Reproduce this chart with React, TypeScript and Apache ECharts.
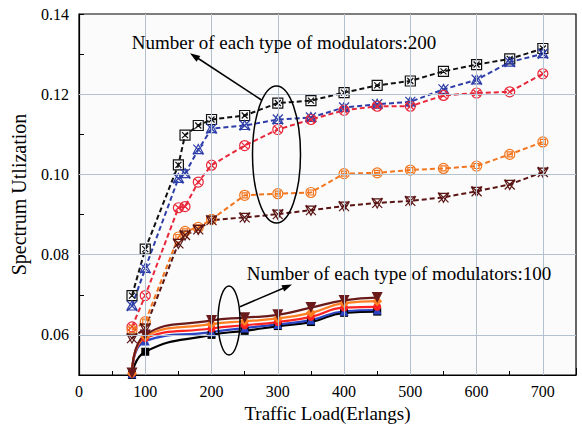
import React, { useEffect, useRef } from "react";
import * as echarts from "echarts";

const loads200 = [80, 100, 150, 160, 180, 200, 250, 300, 350, 400, 450, 500, 550, 600, 650, 700];
const black200 = [0.0698, 0.0814, 0.1024, 0.1098, 0.1122, 0.1137, 0.1147, 0.1178, 0.1184, 0.1204, 0.1222, 0.1233, 0.1257, 0.1274, 0.1288, 0.1314];
const blue200 = [0.0672, 0.0766, 0.099, 0.1002, 0.1062, 0.1114, 0.1122, 0.1137, 0.1142, 0.1167, 0.1175, 0.1181, 0.1212, 0.1236, 0.128, 0.1301];
const red200 = [0.062, 0.0698, 0.0917, 0.092, 0.0981, 0.1023, 0.1072, 0.1112, 0.1137, 0.116, 0.117, 0.117, 0.1197, 0.1203, 0.1206, 0.1251];
const orange200 = [0.0612, 0.0633, 0.0844, 0.0858, 0.0868, 0.0888, 0.0948, 0.0952, 0.0955, 0.1002, 0.1004, 0.1011, 0.1015, 0.1021, 0.105, 0.1081];
const maroon200 = [0.0592, 0.0617, 0.0828, 0.0849, 0.0863, 0.0886, 0.0893, 0.0901, 0.0911, 0.0921, 0.0929, 0.0934, 0.0943, 0.0958, 0.0975, 0.1006];

const loads100 = [80, 100, 200, 250, 300, 350, 400, 450];
const black100 = [0.05, 0.0558, 0.06, 0.061, 0.0622, 0.0632, 0.0655, 0.0658];
const blue100 = [0.0503, 0.0585, 0.0607, 0.0617, 0.0626, 0.0637, 0.0659, 0.0662];
const red100 = [0.0504, 0.0592, 0.0616, 0.0624, 0.0632, 0.0645, 0.0668, 0.067];
const orange100 = [0.0504, 0.0596, 0.0627, 0.0634, 0.0641, 0.0655, 0.0679, 0.0684];
const maroon100 = [0.0505, 0.06, 0.0636, 0.0643, 0.065, 0.0668, 0.0686, 0.0693];

const xGridValues = [100, 200, 300, 400, 500, 600, 700];
const yGridValues = [0.06, 0.08, 0.1, 0.12];

const annotation200 = "Number of each type of modulators:200";
const annotation100 = "Number of each type of modulators:100";
const xName = "Traffic Load(Erlangs)";
const yName = "Spectrum Utlization";

const FONT = '"Liberation Serif", "Times New Roman", serif';

const sqX = "path://M0,0L10,0L10,10L0,10Z M2,2L8,8 M8,2L2,8";
const triX = "path://M0,0L10,10 M10,0L0,10 M5,0L10,9L0,9Z";
const circX = "path://M0,5A5,5,0,1,1,10,5A5,5,0,1,1,0,5Z M1.5,1.5L8.5,8.5 M8.5,1.5L1.5,8.5";
const circSq = "path://M0,5A5,5,0,1,1,10,5A5,5,0,1,1,0,5Z M2.5,2.5L7.5,2.5L7.5,7.5L2.5,7.5Z";
const triDX = "path://M0,0L10,10 M10,0L0,10 M0,1L10,1L5,10Z";

function zip(xs: number[], ys: number[]) {
  return xs.map((x, i) => [x, ys[i]]);
}

function dashed(name: string, ys: number[], color: string, symbol: string) {
  return {
    name,
    type: "line",
    data: zip(loads200, ys),
    symbol,
    symbolSize: 10,
    lineStyle: { color, width: 2, type: [5, 3] },
    itemStyle: { color: "rgba(0,0,0,0)", borderColor: color, borderWidth: 1.2 },
    z: 3,
  };
}

function solid(name: string, ys: number[], color: string, symbol: string, size: number, rotate = 0) {
  return {
    name,
    type: "line",
    data: zip(loads100, ys),
    symbol,
    symbolSize: size,
    symbolRotate: rotate,
    smooth: 0.5,
    lineStyle: { color, width: 2.2 },
    itemStyle: { color, borderColor: color, borderWidth: 0 },
    z: 3,
  };
}

export default function App() {
  const ref = useRef<HTMLDivElement>(null);
  useEffect(() => {
    if (!ref.current) return;
    const chart = echarts.init(ref.current, null, { renderer: "svg" });
    const gridColor = "#b4c2d0";
    chart.setOption({
      animation: false,
      backgroundColor: "#ffffff",
      grid: {
        left: 79,
        right: 6,
        top: 14,
        bottom: 55,
        show: true,
        borderColor: "#000",
        borderWidth: 1.2,
        backgroundColor: "#fbfbfb",
      },
      xAxis: [
        {
          type: "value",
          min: 0,
          max: 750,
          interval: 50,
          name: xName,
          nameLocation: "middle",
          nameGap: 25,
          nameTextStyle: { fontFamily: FONT, fontSize: 19, color: "#000" },
          axisLine: { show: true, lineStyle: { color: "#000", width: 1.2 } },
          axisTick: { show: true, inside: true, length: 4, lineStyle: { color: "#000" } },
          axisLabel: {
            fontFamily: FONT,
            fontSize: 16,
            color: "#000",
            margin: 8,
            formatter: (v: number) => (Math.round(v) % 100 === 0 && v <= 700 ? String(Math.round(v)) : ""),
          },
          splitLine: { show: false },
        },
        {
          type: "value",
          min: 0,
          max: 750,
          interval: 100,
          position: "bottom",
          axisLine: { show: false },
          axisTick: { show: true, inside: true, length: 7, lineStyle: { color: "#000" } },
          axisLabel: { show: false },
          splitLine: { show: false },
        },
      ],
      yAxis: [
        {
          type: "value",
          min: 0.05,
          max: 0.14,
          interval: 0.01,
          name: yName,
          nameLocation: "middle",
          nameGap: 50,
          nameTextStyle: { fontFamily: FONT, fontSize: 20, color: "#000" },
          axisLine: { show: true, lineStyle: { color: "#000", width: 1.2 } },
          axisTick: { show: true, inside: true, length: 5, lineStyle: { color: "#000" } },
          axisLabel: {
            fontFamily: FONT,
            fontSize: 16,
            color: "#000",
            margin: 10,
            formatter: (v: number) => {
              const k = Math.round(v * 100);
              return k % 2 === 0 ? (k / 100).toFixed(2) : "";
            },
          },
          splitLine: { show: false },
        },
      ],
      series: [
        {
          name: "grid",
          type: "line",
          data: [],
          silent: true,
          markLine: {
            silent: true,
            symbol: "none",
            label: { show: false },
            lineStyle: { color: gridColor, width: 1, type: "solid" },
            data: [
              ...xGridValues.map((v) => ({ xAxis: v })),
              ...yGridValues.map((v) => ({ yAxis: v })),
            ],
          },
          z: 1,
        },
        dashed("black200", black200, "#111111", sqX),
        dashed("blue200", blue200, "#2e3ea8", triX),
        dashed("red200", red200, "#e8283a", circX),
        dashed("orange200", orange200, "#f2761e", circSq),
        dashed("maroon200", maroon200, "#5a1414", triDX),
        solid("black100", black100, "#000000", "rect", 8),
        solid("blue100", blue100, "#2b44c4", "triangle", 9),
        solid("red100", red100, "#ff2222", "circle", 8),
        solid("orange100", orange100, "#ff7e22", "diamond", 10),
        solid("maroon100", maroon100, "#6a1a1a", "triangle", 11, 180),
      ],
      graphic: [
        {
          type: "text",
          x: 284,
          y: 42,
          z: 10,
          style: { text: annotation200, font: `19px ${FONT}`, fill: "#000", align: "center", verticalAlign: "middle" },
        },
        {
          type: "text",
          x: 399,
          y: 273,
          z: 10,
          style: { text: annotation100, font: `19px ${FONT}`, fill: "#000", align: "center", verticalAlign: "middle" },
        },
        {
          type: "ellipse",
          z: 10,
          shape: { cx: 276.5, cy: 154.5, rx: 24, ry: 68.5 },
          style: { fill: "none", stroke: "#000", lineWidth: 1.5 },
        },
        {
          type: "line",
          z: 10,
          shape: { x1: 261.5, y1: 100, x2: 196, y2: 57 },
          style: { stroke: "#000", lineWidth: 1.5 },
        },
        {
          type: "polygon",
          z: 10,
          shape: { points: [[190, 53.3], [200.3, 55.9], [196.5, 61.7]] },
          style: { fill: "#000" },
        },
        {
          type: "ellipse",
          z: 10,
          shape: { cx: 229, cy: 320.5, rx: 11, ry: 34.5 },
          style: { fill: "none", stroke: "#000", lineWidth: 1.5 },
        },
        {
          type: "line",
          z: 10,
          shape: { x1: 240, y1: 306.7, x2: 285, y2: 287.5 },
          style: { stroke: "#000", lineWidth: 1.5 },
        },
        {
          type: "polygon",
          z: 10,
          shape: { points: [[292, 284.5], [284.2, 291.6], [281.4, 285.2]] },
          style: { fill: "#000" },
        },
      ],
    });
    return () => chart.dispose();
  }, []);
  return <div ref={ref} style={{ position: "fixed", left: 0, top: 0, width: 582, height: 430 }} />;
}
